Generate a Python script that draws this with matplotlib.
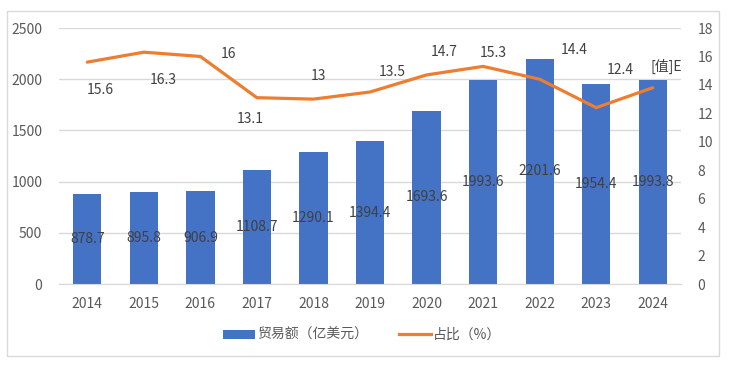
import matplotlib
matplotlib.use("Agg")
import matplotlib.pyplot as plt
from matplotlib.patches import Rectangle
from matplotlib.lines import Line2D
from matplotlib.patches import Patch

plt.rcParams['font.family'] = ['Noto Sans CJK SC', 'DejaVu Sans']

years = ['2014', '2015', '2016', '2017', '2018', '2019', '2020', '2021', '2022', '2023', '2024']
trade = [878.7, 895.8, 906.9, 1108.7, 1290.1, 1394.4, 1693.6, 1993.6, 2201.6, 1954.4, 1993.8]
share = [15.6, 16.3, 16.0, 13.1, 13.0, 13.5, 14.7, 15.3, 14.4, 12.4, 13.8]
share_labels = ['15.6', '16.3', '16', '13.1', '13', '13.5', '14.7', '15.3', '14.4', '12.4', '[值]E']
# label offsets (pixels) relative to each point
share_offsets = [(13, -28), (19, -28), (28, 2), (-7, -21), (5, 23), (22, 20),
                 (18, 23), (10, 13), (35, 29), (24, 38), (14, 21)]

bar_color = '#4472C4'
line_color = '#ED7D31'
tick_color = '#595959'
label_color = '#404040'
grid_color = '#D9D9D9'

fig = plt.figure(figsize=(7.3, 3.65), dpi=100)
fig.patches.append(Rectangle((7/730, 1-356/365), 712/730, 345/365, transform=fig.transFigure,
                             fill=False, edgecolor=grid_color, linewidth=1.0))

ax = fig.add_axes([59/730, 1-284/365, 622/730, 256/365])
x = list(range(len(years)))
ax.bar(x, trade, width=0.5, color=bar_color, zorder=2)
ax.set_xlim(-0.5, len(years)-0.5)
ax.set_ylim(0, 2500)
ax.set_yticks(range(0, 2501, 500))
ax.set_xticks(x)
ax.set_xticklabels(years)
ax.grid(axis='y', color=grid_color, linewidth=1.0, zorder=0)
for s in ['top', 'right', 'left']:
    ax.spines[s].set_visible(False)
ax.spines['bottom'].set_color(grid_color)
ax.tick_params(axis='both', length=0, colors=tick_color, labelsize=10)
ax.tick_params(axis='y', pad=12)
ax.tick_params(axis='x', pad=9)

for xi, v in zip(x, trade):
    ax.text(xi, v/2, f'{v:.1f}', ha='center', va='center', color=label_color, fontsize=10, zorder=5)

ax2 = ax.twinx()
ax2.set_ylim(0, 18)
ax2.set_yticks(range(0, 19, 2))
for s in ['top', 'right', 'left', 'bottom']:
    ax2.spines[s].set_visible(False)
ax2.tick_params(axis='y', length=0, colors=tick_color, labelsize=10, pad=12)
ax2.plot(x, share, color=line_color, linewidth=2.3, zorder=3, solid_capstyle='round')
for xi, v, lab, off in zip(x, share, share_labels, share_offsets):
    ax2.annotate(lab, (xi, v), xytext=off, textcoords='offset pixels',
                 ha='center', va='center', color=label_color, fontsize=10)

handles = [Patch(facecolor=bar_color, edgecolor='none'),
           Line2D([0], [0], color=line_color, linewidth=2.3)]
fig.legend(handles, ['贸易额（亿美元）', '占比（%）'], loc='center', bbox_to_anchor=(362/730, 1-335/365),
           ncol=2, frameon=False, fontsize=10, labelcolor=tick_color, handlelength=2.3,
           handletextpad=0.15, columnspacing=2.2, handleheight=0.6)

fig.savefig('out.png', dpi=100)
